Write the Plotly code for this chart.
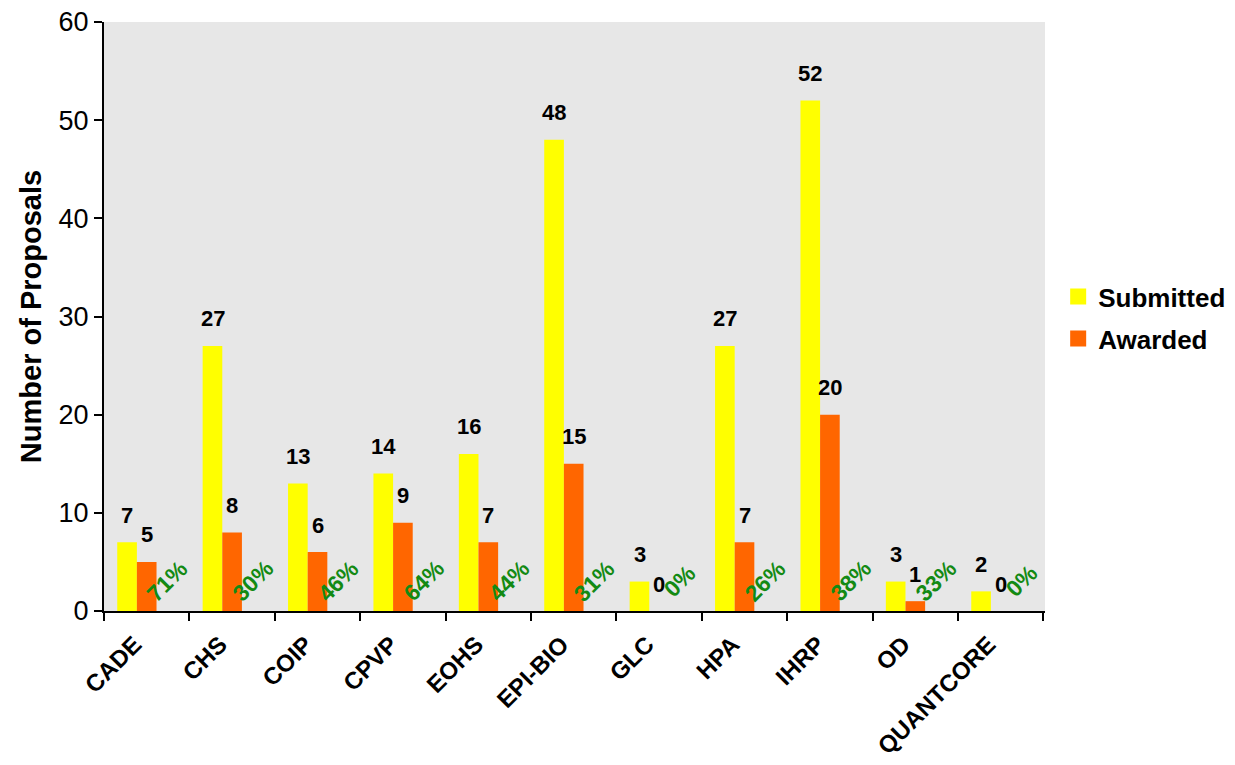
import plotly.graph_objects as go

categories = ["CADE", "CHS", "COIP", "CPVP", "EOHS", "EPI-BIO", "GLC", "HPA", "IHRP", "OD", "QUANTCORE"]
submitted = [7, 27, 13, 14, 16, 48, 3, 27, 52, 3, 2]
awarded = [5, 8, 6, 9, 7, 15, 0, 7, 20, 1, 0]
rate_labels = [f"{round(a / s * 100)}%" for a, s in zip(awarded, submitted)]

FONT = "Liberation Sans, Arial, sans-serif"
YELLOW = "#FFFF00"
ORANGE = "#FF6600"
GREEN = "#138A13"

fig = go.Figure()
fig.add_trace(go.Bar(x=categories, y=submitted, name="Submitted", marker=dict(color=YELLOW, line=dict(width=0)),
                     showlegend=False))
fig.add_trace(go.Bar(x=categories, y=awarded, name="Awarded", marker=dict(color=ORANGE, line=dict(width=0)),
                     showlegend=False))
# third (invisible) slot that carries the rate labels
fig.add_trace(go.Bar(x=categories, y=[0] * len(categories), name="Rate",
                     marker=dict(color="rgba(0,0,0,0)", line=dict(width=0)),
                     showlegend=False, hoverinfo="skip"))

# legend entries
fig.add_trace(go.Scatter(x=[None], y=[None], mode="markers", name="Submitted", legendgroup="a",
                         marker=dict(symbol="square", size=18, color=YELLOW)))
fig.add_trace(go.Scatter(x=[None], y=[None], mode="markers", name="Awarded", legendgroup="b",
                         marker=dict(symbol="square", size=18, color=ORANGE)))

slot = 19.6
ann = []
for c, s, a, r in zip(categories, submitted, awarded, rate_labels):
    ann.append(dict(x=c, y=s, xref="x", yref="y", text=f"<b>{s}</b>", showarrow=False,
                    xshift=-slot, yshift=27, yanchor="middle", font=dict(family=FONT, size=22, color="black")))
    ann.append(dict(x=c, y=a, xref="x", yref="y", text=f"<b>{a}</b>", showarrow=False,
                    xshift=0, yshift=27, yanchor="middle", font=dict(family=FONT, size=22, color="black")))
    ann.append(dict(x=c, y=0, xref="x", yref="y", text=f"<b>{r}</b>", showarrow=False, textangle=-45,
                    xshift=slot + 1, yshift=30, yanchor="middle", xanchor="center",
                    font=dict(family=FONT, size=23, color=GREEN)))

fig.update_layout(
    width=1235, height=765,
    margin=dict(l=96, r=198, t=14, b=162),
    paper_bgcolor="white",
    plot_bgcolor="#e7e7e7",
    barmode="group",
    bargap=0.31,
    bargroupgap=0,
    font=dict(family=FONT, size=20, color="black"),
    annotations=ann,
    legend=dict(x=1.014, y=0.498, xanchor="left", yanchor="middle", tracegroupgap=5,
                font=dict(family=FONT, size=26, color="black", weight="bold"),
                bgcolor="rgba(0,0,0,0)"),
    xaxis=dict(type="category", tickson="boundaries", ticks="outside", ticklen=8, tickwidth=2, tickcolor="black",
               showline=True, linecolor="black", linewidth=2, showgrid=False, tickangle=-45,
               ticklabelshift=-12, ticklabelstandoff=8, automargin=False,
               tickfont=dict(family=FONT, size=24, color="black", weight="bold")),
    yaxis=dict(range=[0, 60], dtick=10, ticks="outside", ticklen=8, tickwidth=2, tickcolor="black",
               showline=True, linecolor="black", linewidth=2, showgrid=False, zeroline=False,
               ticklabeloverflow="allow", automargin=False,
               tickfont=dict(family=FONT, size=27, color="black"),
               title=dict(text="<b>Number of Proposals</b>", font=dict(family=FONT, size=29, color="black"),
                          standoff=8)),
)

fig.write_html("out.html")
